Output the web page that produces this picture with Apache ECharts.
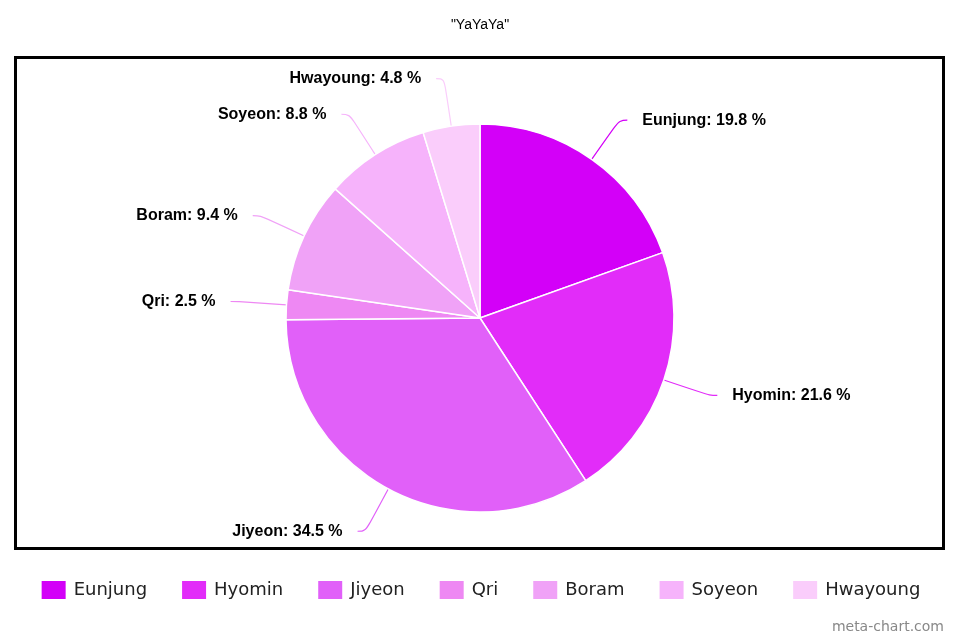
<!DOCTYPE html>
<html>
<head>
<meta charset="utf-8">
<script src="https://cdn.jsdelivr.net/npm/echarts@6/dist/echarts.min.js"></script>
<style>html,body{margin:0;padding:0;background:#fff}#c{width:960px;height:640px}</style>
</head>
<body>
<div id="c"></div>
<script>
var titleText = '"YaYaYa"';
var categories = ['Eunjung', 'Hyomin', 'Jiyeon', 'Qri', 'Boram', 'Soyeon', 'Hwayoung'];
var values = [19.8, 21.6, 34.5, 2.5, 9.4, 8.8, 4.8];
var colors = ['#d300f8', '#e22cf9', '#e160f9', '#ee88f3', '#f0a2f7', '#f6b3fb', '#facdfb'];

var chart = echarts.init(document.getElementById('c'), null, {renderer: 'canvas'});
var data = categories.map(function (n, i) {
  return {name: n, value: values[i], itemStyle: {color: colors[i]}, labelLine: {lineStyle: {color: colors[i]}}};
});
chart.setOption({
  animation: false,
  backgroundColor: '#ffffff',
  title: {
    text: titleText, left: 'center', top: 13,
    textStyle: {fontFamily: 'Liberation Sans, Arial, sans-serif', fontSize: 14, fontWeight: 'normal', color: '#000'}
  },
  graphic: [
    {type: 'rect', shape: {x: 15.5, y: 57.5, width: 928, height: 491}, style: {fill: 'none', stroke: '#000', lineWidth: 3}, z: 0},
    {type: 'text', right: 16, bottom: 6, style: {text: 'meta-chart.com', fill: '#888', font: '14px DejaVu Sans, sans-serif'}}
  ],
  legend: {
    data: categories,
    left: 'center', top: 574,
    itemWidth: 26, itemHeight: 20, itemGap: 33,
    icon: 'rect',
    textStyle: {fontFamily: 'DejaVu Sans, sans-serif', fontSize: 18, color: '#222', padding: [0, 0, 0, 2]}
  },
  series: [{
    type: 'pie',
    center: [480, 318],
    radius: [0, 194],
    startAngle: 90,
    clockwise: true,
    data: data,
    itemStyle: {borderColor: '#fff', borderWidth: 1.5},
    label: {
      show: true, position: 'outside',
      formatter: '{b}: {c} %',
      fontFamily: 'Liberation Sans, Arial, sans-serif', fontSize: 16, fontWeight: 'bold', color: '#000',
      distanceToLabelLine: 15
    },
    labelLine: {show: true, length: 48, length2: 8, smooth: 0.4, lineStyle: {width: 1.2}},
    emphasis: {disabled: true}
  }]
});
</script>
</body>
</html>
